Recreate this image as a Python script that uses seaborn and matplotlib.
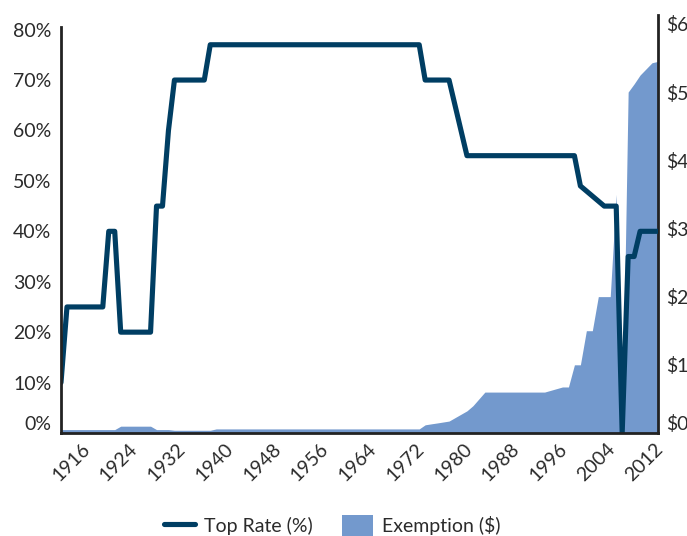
import matplotlib
matplotlib.use("Agg")
import matplotlib.pyplot as plt
import matplotlib.transforms as mtransforms
from matplotlib.lines import Line2D
from matplotlib.patches import Patch
import pandas as pd
import seaborn as sns

# Estate tax history, 1916-2016
years = list(range(1916, 2017))

# top marginal rate (%)
top_rate = (
    [10]
    + [25] * 7            # 1917-1923
    + [40] * 2            # 1924-1925
    + [20] * 6            # 1926-1931
    + [45] * 2            # 1932-1933
    + [60]                # 1934
    + [70] * 6            # 1935-1940
    + [77] * 36           # 1941-1976
    + [70] * 5            # 1977-1981
    + [65, 60]            # 1982-1983
    + [55] * 19           # 1984-2002
    + [49, 48, 47, 46]    # 2003-2006
    + [45] * 3            # 2007-2009
    + [0]                 # 2010
    + [35] * 2            # 2011-2012
    + [40] * 4            # 2013-2016
)

# exemption ($ millions)
exemption = (
    [0.05] * 10           # 1916-1925
    + [0.10] * 6          # 1926-1931
    + [0.05] * 3          # 1932-1934
    + [0.04] * 7          # 1935-1941
    + [0.06] * 35         # 1942-1976
    + [0.12, 0.134, 0.147, 0.161, 0.175, 0.225, 0.275, 0.325, 0.40, 0.50]  # 1977-1986
    + [0.60] * 11         # 1987-1997
    + [0.625, 0.65, 0.675, 0.675]  # 1998-2001
    + [1.0] * 2           # 2002-2003
    + [1.5] * 2           # 2004-2005
    + [2.0] * 3           # 2006-2008
    + [3.5]               # 2009
    + [0.0]               # 2010
    + [5.0, 5.12, 5.25, 5.34, 5.43, 5.45]  # 2011-2016
)

tick_years = [1916, 1924, 1932, 1940, 1948, 1956, 1964, 1972, 1980, 1988, 1996, 2004, 2012]
rate_ticks = [0, 10, 20, 30, 40, 50, 60, 70, 80]
money_ticks = [0, 1, 2, 3, 4, 5, 6]

df = pd.DataFrame({"year": years, "rate": top_rate, "exemption": exemption})

LINE_COLOR = "#003E63"
FILL_COLOR = "#7399CD"
TEXT_COLOR = "#2b2b2b"
SPINE_COLOR = "#222222"

sns.set_style("white")
plt.rcParams["font.family"] = ["Lato", "DejaVu Sans"]
plt.rcParams["font.size"] = 14

fig = plt.figure(figsize=(6.87, 5.36), dpi=100)
ax = fig.add_axes([61 / 687, 1 - 433 / 536, (658 - 61) / 687, (433 - 15) / 536])
ax2 = ax.twinx()

# exemption area on the right axis
ax2.fill_between(df["year"], 0, df["exemption"], color=FILL_COLOR, linewidth=0)
ax2.set_ylim(0, 6.13)

# top rate line on the left axis, drawn above the area
sns.lineplot(data=df, x="year", y="rate", ax=ax, color=LINE_COLOR, linewidth=3.7)
ax.set_zorder(ax2.get_zorder() + 1)
ax.patch.set_visible(False)
ax.set_ylim(0, 82.9)
ax.set_xlim(1916, 2016)
ax.set_xlabel("")
ax.set_ylabel("")

ax.set_yticks(rate_ticks)
ax.set_yticklabels([f"{v}%" for v in rate_ticks])
ax2.set_yticks(money_ticks)
ax2.set_yticklabels([f"${v}" for v in money_ticks])
ax.set_xticks(tick_years)
ax.set_xticklabels([str(y) for y in tick_years], rotation=45, ha="center")

for a in (ax, ax2):
    a.tick_params(length=0, labelsize=14, colors=TEXT_COLOR)
    for s in a.spines.values():
        s.set_visible(False)
ax.tick_params(axis="y", pad=7)
ax.tick_params(axis="x", pad=5)
ax2.tick_params(axis="y", pad=6)

ax.spines["left"].set_visible(True)
ax.spines["left"].set_bounds(0, 80.6)
ax.spines["bottom"].set_visible(True)
ax2.spines["right"].set_visible(True)
for s in (ax.spines["left"], ax.spines["bottom"], ax2.spines["right"]):
    s.set_color(SPINE_COLOR)
    s.set_linewidth(2)

# zero labels sit a bit above the baseline
ax.get_yticklabels()[0].set_verticalalignment("bottom")
ax2.get_yticklabels()[0].set_verticalalignment("bottom")

# nudge the rotated year labels right of their ticks
shift = mtransforms.ScaledTranslation(10 / 100, 0, fig.dpi_scale_trans)
for lbl in ax.get_xticklabels():
    lbl.set_transform(lbl.get_transform() + shift)

handles = [
    Line2D([0], [0], color=LINE_COLOR, linewidth=3.7, solid_capstyle="round"),
    Patch(facecolor=FILL_COLOR, edgecolor="none"),
]
fig.legend(handles, ["Top Rate (%)", "Exemption ($)"], loc="center",
           bbox_to_anchor=(332 / 687, 1 - 526 / 536), ncol=2, frameon=False,
           fontsize=14, handlelength=1.6, handleheight=1.4, handletextpad=0.45,
           columnspacing=1.5, labelcolor=TEXT_COLOR)

fig.savefig("out.png", dpi=100)
